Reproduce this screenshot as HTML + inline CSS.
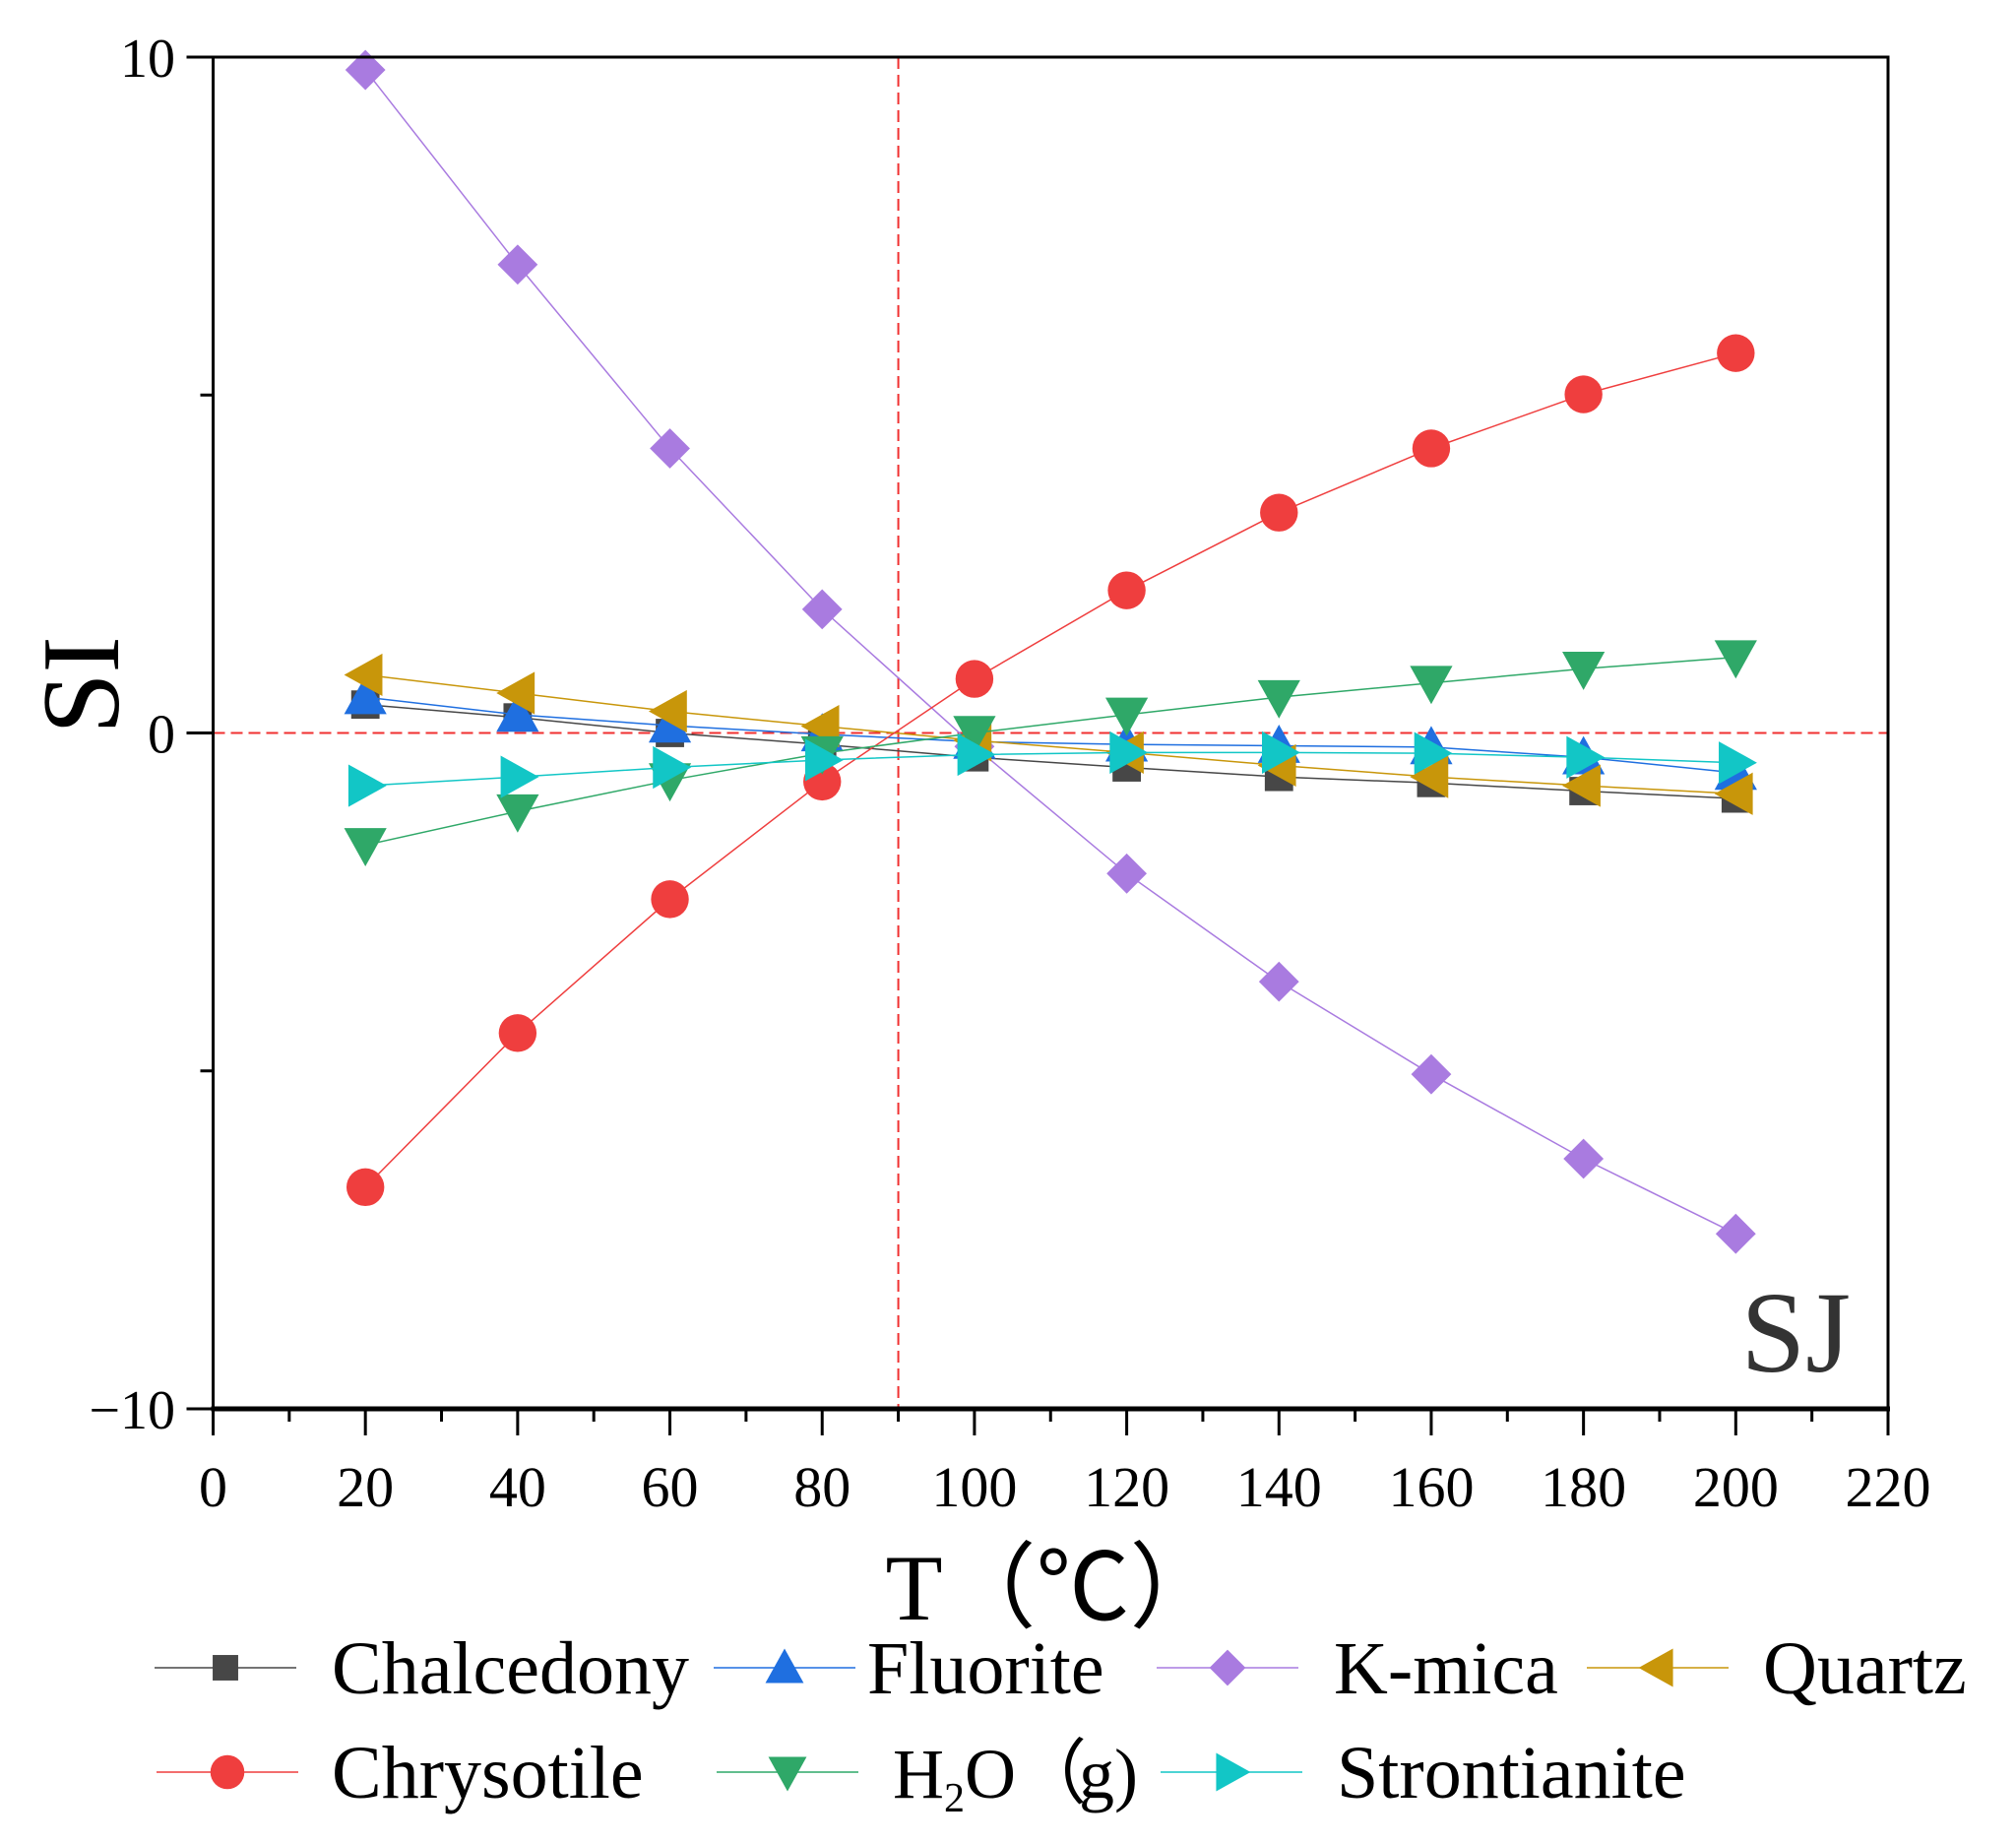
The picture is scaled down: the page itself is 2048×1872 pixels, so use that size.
<!DOCTYPE html>
<html><head><meta charset="utf-8"><style>
html,body{margin:0;padding:0;background:#fff;}
svg{display:block;font-family:"Liberation Serif",serif;}
</style></head><body>
<svg id="chart" width="2048" height="1872" viewBox="0 0 2048 1872" xmlns="http://www.w3.org/2000/svg"></svg>
<script>
const temps = [20,40,60,80,100,120,140,160,180,200];
const chalcedony = [0.42,0.23,0,-0.17,-0.36,-0.51,-0.65,-0.74,-0.86,-0.97];
const fluorite = [0.53,0.27,0.11,-0.02,-0.13,-0.17,-0.19,-0.21,-0.36,-0.59];
const kmica = [9.81,6.93,4.21,1.83,-0.2,-2.08,-3.68,-5.05,-6.3,-7.41];
const quartz = [0.86,0.59,0.32,0.1,-0.11,-0.29,-0.48,-0.65,-0.78,-0.9];
const chrysotile = [-6.72,-4.44,-2.46,-0.72,0.8,2.11,3.26,4.21,5.01,5.62];
const h2o = [-1.66,-1.16,-0.7,-0.3,0,0.27,0.53,0.74,0.95,1.12];
const strontianite = [-0.78,-0.65,-0.51,-0.4,-0.32,-0.29,-0.29,-0.3,-0.36,-0.44];
const xTicks = [0,20,40,60,80,100,120,140,160,180,200,220];
const yTicks = [10,0,-10];
const yTickLabels = ["10","0","\u221210"];
const refX = 90, refY = 0;

const NS="http://www.w3.org/2000/svg";
const svg=document.getElementById('chart');
const L=216.5,R=1918,T=58,B=1431;
const X=v=>L+(v-0)/(220-0)*(R-L);
const Y=v=>B-(v-(-10))/(20)*(B-T);
function mk(tag,attrs,parent){const e=document.createElementNS(NS,tag);for(const k in attrs)e.setAttribute(k,attrs[k]);(parent||svg).appendChild(e);return e;}

let g=mk('g',{});


let e=mk('line',{x1:L,x2:R,y1:Y(refY),y2:Y(refY),stroke:'#f03030','stroke-width':2,'stroke-dasharray':'12,6'},g);


e=mk('line',{x1:X(refX),x2:X(refX),y1:T,y2:B,stroke:'#f03030','stroke-width':2,'stroke-dasharray':'12,6'},g);



function marker(type,cx,cy,color,parent,s){
  s=(s||1)*1.2;let el;
  if(type==='square'){el=mk('rect',{x:cx-12*s,y:cy-12*s,width:24*s,height:24*s,fill:color},parent);}
  else if(type==='circle'){el=mk('circle',{cx:cx,cy:cy,r:16*s,fill:color},parent);}
  else if(type==='diamond'){const r=17*s;el=mk('polygon',{points:`${cx},${cy-r} ${cx+r},${cy} ${cx},${cy+r} ${cx-r},${cy}`,fill:color},parent);}
  else if(type==='up'){const r=18*s;el=mk('polygon',{points:`${cx},${cy-r} ${cx+r},${cy+r*0.8} ${cx-r},${cy+r*0.8}`,fill:color},parent);}
  else if(type==='down'){const r=18*s;el=mk('polygon',{points:`${cx},${cy+r} ${cx+r},${cy-r*0.8} ${cx-r},${cy-r*0.8}`,fill:color},parent);}
  else if(type==='left'){const r=18*s;el=mk('polygon',{points:`${cx-r},${cy} ${cx+r*0.8},${cy-r} ${cx+r*0.8},${cy+r}`,fill:color},parent);}
  else if(type==='right'){const r=18*s;el=mk('polygon',{points:`${cx+r},${cy} ${cx-r*0.8},${cy-r} ${cx-r*0.8},${cy+r}`,fill:color},parent);}
  return el;
}
const series=[
 {name:'chalcedony',data:chalcedony,color:'#474747',m:'square'},
 {name:'fluorite',data:fluorite,color:'#1f6fe0',m:'up'},
 {name:'k-mica',data:kmica,color:'#a97be0',m:'diamond'},
 {name:'quartz',data:quartz,color:'#c8960a',m:'left'},
 {name:'chrysotile',data:chrysotile,color:'#ef3e3e',m:'circle'},
 {name:'h2o-g',data:h2o,color:'#2fa868',m:'down'},
 {name:'strontianite',data:strontianite,color:'#12c6c6',m:'right'}
];
series.forEach(s=>{
  const sg=mk('g',{});
  
  
  const pl=mk('polyline',{points:temps.map((t,i)=>X(t)+','+Y(s.data[i])).join(' '),fill:'none',stroke:s.color,'stroke-width':1.5},sg);
  
  
  temps.forEach((t,i)=>{
    const m=marker(s.m,X(t),Y(s.data[i]),s.color,sg);
    
    
  });
});

e=mk('rect',{x:L,y:T,width:R-L,height:B-T,fill:'none',stroke:'#000','stroke-width':3});


e=mk('line',{x1:L-2,x2:R+2,y1:B,y2:B,stroke:'#000','stroke-width':5});



xTicks.forEach(v=>{
  let t=mk('line',{x1:X(v),x2:X(v),y1:B,y2:B+27,stroke:'#000','stroke-width':3});
  
  
  if(v<220){t=mk('line',{x1:X(v+10),x2:X(v+10),y1:B,y2:B+13,stroke:'#000','stroke-width':3});
  
  }
  const tx=mk('text',{x:X(v),y:1530,'font-size':58,'text-anchor':'middle',fill:'#000'});
  tx.textContent=v;
  
  
});
yTicks.forEach((v,i)=>{
  let t=mk('line',{x1:L-27,x2:L,y1:Y(v),y2:Y(v),stroke:'#000','stroke-width':3});
  
  
  const tx=mk('text',{x:178,y:Y(v)+20,'font-size':56,'text-anchor':'end',fill:'#000'});
  tx.textContent=yTickLabels[i];
  
  
});
[5,-5].forEach(v=>{
  const t=mk('line',{x1:L-13,x2:L,y1:Y(v),y2:Y(v),stroke:'#000','stroke-width':3});
  
  
});

e=mk('text',{x:1071,y:1645,'font-size':95,'text-anchor':'middle',fill:'#000'});
e.textContent='T（℃）';


e=mk('text',{x:0,y:0,'font-size':112,'text-anchor':'middle',fill:'#000',transform:'translate(120,696) rotate(-90)'});
e.textContent='SI';


e=mk('text',{x:1880,y:1393,'font-size':118,'text-anchor':'end',fill:'#333'});
e.textContent='SJ';



const legendItems=[
 {s:0,label:'Chalcedony',lx:157,tx:337,y:1694},
 {s:1,label:'Fluorite',lx:725,tx:881,y:1694},
 {s:2,label:'K-mica',lx:1175,tx:1355,y:1694},
 {s:3,label:'Quartz',lx:1612,tx:1791,y:1694},
 {s:4,label:'Chrysotile',lx:159,tx:337,y:1800},
 {s:5,label:'H2O',lx:728,tx:907,y:1800},
 {s:6,label:'Strontianite',lx:1179,tx:1358,y:1800}
];
legendItems.forEach(it=>{
  const s=series[it.s];
  const lg=mk('g',{});
  
  
  mk('line',{x1:it.lx,x2:it.lx+144,y1:it.y,y2:it.y,stroke:s.color,'stroke-width':1.5},lg);
  marker(s.m,it.lx+72,it.y,s.color,lg,0.9);
  const tx=mk('text',{x:it.tx,y:it.y+26,'font-size':76,fill:'#000'},lg);
  if(it.label==='H2O'){
    tx.setAttribute('font-size','72');
    tx.innerHTML='H<tspan font-size="42" dy="14">2</tspan><tspan dy="-14">O<tspan letter-spacing="-8">（</tspan>g<tspan>)</tspan></tspan>';
  } else tx.textContent=it.label;
});
</script>
</body></html>
